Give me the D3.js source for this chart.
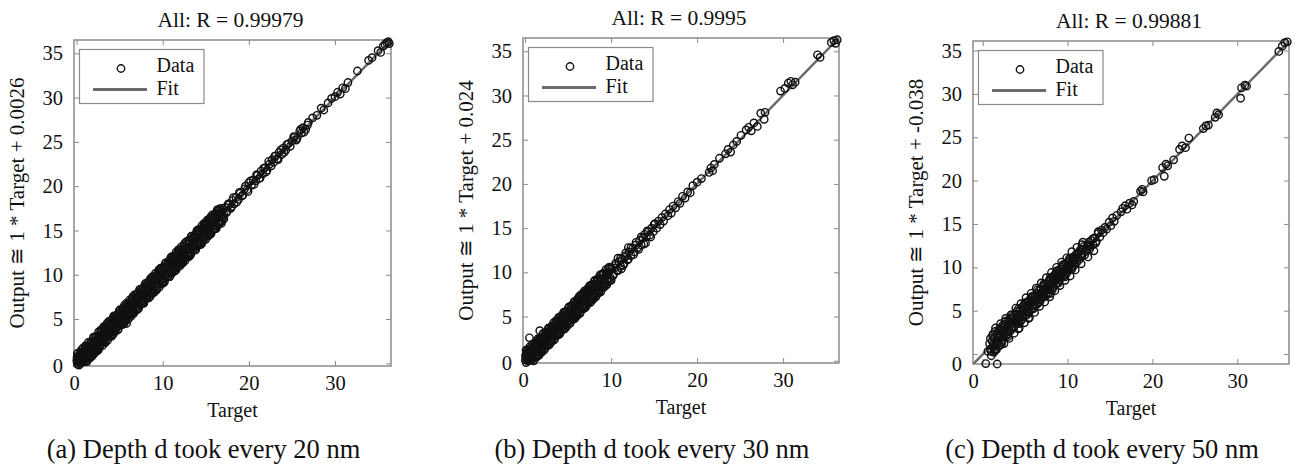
<!DOCTYPE html>
<html>
<head>
<meta charset="utf-8">
<script src="https://cdn.jsdelivr.net/npm/d3@7"></script>
<style>
  body { margin: 0; background: #fff; }
</style>
</head>
<body>
<div id="chart"></div>
<script>
//* data

var rValues = [0.99979, 0.9995, 0.99881]
var intercepts = [0.0026, 0.024, -0.038]
var captions = ["(a) Depth d took every 20 nm", "(b) Depth d took every 30 nm", "(c) Depth d took every 50 nm"]
var axisLimits = [[-0.3, 36.5], [-0.25, 36.5], [-1.15, 36.1]]
var xTickValues = [0, 10, 20, 30]
var yTickValues = [0, 5, 10, 15, 20, 25, 30, 35]
var legendLabels = ["Data", "Fit"]
var serifFont = "Liberation Serif"

// [target, output]
var pointsA = [[0.02,0.3],[0.08,-0.1],[0.12,0.6],[0.18,0.1],[0.22,0.4],[0.28,-0.2],[0.33,0.8],[0.38,0.2],[0.42,0.5],[0.47,0.0],[0.52,0.9],[0.58,0.3],[0.63,0.7],[0.7,0.2],[0.76,1.1],[0.82,0.5],[0.9,1.0],[0.97,0.6],[1.05,1.4],[1.12,0.8],[1.2,1.3],[1.28,0.9],[1.36,1.7],[1.44,1.1],[1.52,1.6],[1.6,1.2],[1.75,0.9],[1.7,2.1],[1.82,1.5],[1.92,2.3],[2.0,1.7],[2.1,2.5],[2.2,1.9],[2.3,2.6],[2.42,2.1],[2.52,2.9],[2.62,2.3],[2.74,3.1],[2.85,2.5],[2.96,3.3],[3.08,2.7],[3.2,3.5],[3.32,2.9],[3.44,3.8],[3.56,3.2],[3.68,4.0],[3.8,3.4],[3.92,4.2],[4.05,3.6],[4.18,4.5],[4.3,3.9],[4.43,4.8],[4.56,4.1],[4.7,5.0],[4.84,4.4],[4.97,5.3],[5.1,4.7],[5.24,5.6],[5.38,4.9],[5.52,5.9],[5.66,5.2],[5.8,4.5],[5.8,6.1],[5.95,5.5],[6.1,6.5],[6.25,5.8],[6.4,6.8],[6.55,6.1],[6.7,7.1],[6.86,6.4],[7.02,7.5],[7.18,6.8],[7.34,7.8],[7.5,7.1],[7.66,8.0],[7.82,7.4],[7.98,8.4],[8.14,7.7],[8.3,8.7],[8.46,8.0],[8.62,9.0],[8.78,8.3],[8.94,9.3],[9.1,8.7],[9.26,9.7],[9.42,9.0],[9.58,10.0],[9.74,9.3],[9.9,10.3],[10.0,9.6],[10.06,10.1],[10.22,10.6],[10.38,9.9],[10.54,10.9],[10.7,10.2],[10.86,11.2],[11.02,10.6],[11.18,11.5],[11.34,10.9],[11.5,11.9],[11.66,11.2],[11.82,12.1],[11.98,11.5],[12.2,11.5],[12.14,12.5],[12.3,11.9],[12.46,12.8],[12.62,12.2],[12.78,13.1],[12.94,12.5],[13.1,13.5],[13.26,12.9],[13.42,13.8],[13.58,13.2],[13.74,14.2],[13.9,13.5],[14.06,14.5],[14.22,13.8],[14.38,14.9],[14.54,14.2],[14.7,15.2],[14.86,14.5],[15.02,15.6],[15.18,14.9],[15.34,15.8],[15.5,15.2],[15.66,16.2],[15.82,15.5],[15.98,16.4],[16.14,15.9],[16.3,16.7],[16.46,16.1],[16.62,17.0],[16.78,16.5],[16.94,17.3],[17.1,16.8],
  [0.05,0.7],[0.15,0.45],[0.25,0.9],[0.35,0.1],[0.45,1.0],[0.55,0.25],[0.65,1.1],[0.75,0.45],[0.85,1.3],[0.95,0.2],[1.1,1.7],[1.25,0.6],[1.4,1.6],[1.55,1.0],[1.7,2.3],[1.85,1.2],[2.0,2.4],[2.15,1.5],[2.3,3.0],[2.45,1.7],[2.6,3.2],[2.75,2.1],[2.9,3.5],[3.05,2.4],[3.2,3.9],[3.35,2.7],[3.5,4.1],[3.65,3.0],[3.8,4.5],[3.95,3.3],[4.1,4.7],[4.25,3.6],[4.4,5.1],[4.55,3.9],[4.7,5.3],[4.85,4.2],[5.0,5.7],[5.15,4.4],[5.3,5.9],[5.45,4.7],[5.6,6.3],[5.75,5.0],[5.9,6.5],[6.05,5.4],[6.2,6.9],[6.35,5.6],[6.5,7.2],[6.65,5.9],[6.8,7.5],[6.95,6.2],[7.1,7.8],[7.25,6.5],[7.4,8.1],[7.55,6.8],[7.7,8.4],[7.85,7.1],[8.0,8.7],[8.15,7.4],[8.3,9.0],[8.45,7.7],[8.6,9.3],[8.75,8.0],[8.9,9.6],[9.05,8.3],[9.2,9.9],[9.35,8.6],[9.5,10.2],[9.65,8.9],[9.8,10.5],[9.95,9.2],[10.1,10.8],[10.25,9.5],[10.4,11.1],[10.55,9.8],[10.7,11.4],[10.85,10.1],[11.0,11.7],[11.15,10.4],[11.3,12.0],[11.45,10.7],[11.6,12.3],[11.75,11.0],[11.9,12.6],[12.05,11.3],[12.2,12.9],[12.35,11.6],[12.5,13.2],[12.65,11.9],[12.8,13.5],[12.95,12.2],[13.1,13.8],[13.25,12.5],[13.4,14.1],[13.55,12.8],[13.7,14.4],[13.85,13.1],[14.0,14.7],[14.15,13.4],[14.3,15.0],[14.45,13.7],[14.6,15.3],[14.75,14.0],[14.9,15.6],[15.05,14.3],[15.2,15.9],[15.35,14.6],[15.5,16.2],[15.65,14.9],[15.8,16.5],[15.95,15.2],[16.1,16.8],[16.3,15.5],[16.5,17.2],[16.7,15.9],[16.9,17.5],[17.1,16.3],
  [0.1,1.1],[0.3,0.45],[0.55,1.5],[0.8,0.95],[1.05,2.0],[1.3,1.15],[1.55,0.6],[1.8,2.0],[2.05,1.1],[2.3,2.45],[2.55,1.55],[2.8,3.75],[3.05,3.2],[3.3,2.3],[3.55,4.55],[3.8,3.95],[4.05,3.05],[4.3,5.3],[4.55,4.7],[4.8,3.8],[5.05,6.05],[5.3,5.45],[5.55,4.55],[5.8,6.8],[6.05,6.2],[6.3,5.3],[6.55,7.55],[6.8,6.95],[7.05,6.05],[7.3,8.3],[7.55,7.7],[7.8,6.8],[8.05,9.05],[8.3,8.45],[8.55,7.55],[8.8,9.8],[9.05,9.2],[9.3,8.3],[9.55,10.55],[9.8,9.95],[10.05,9.05],[10.3,11.3],[10.55,10.7],[10.8,9.8],[11.05,12.05],[11.3,11.45],[11.55,10.55],[11.8,12.8],[12.05,12.2],[12.3,11.3],[12.55,13.55],[12.8,12.95],[13.05,12.05],[13.3,14.3],[13.55,13.7],[13.8,12.8],[14.05,15.05],[14.3,14.45],[14.55,13.55],[14.8,15.8],[15.05,15.2],[15.3,14.4],[15.55,16.5],[15.8,15.95],[16.05,15.2],[16.3,17.2],[16.6,16.75],[16.9,16.1],
  [0.2,0.75],[0.4,0.15],[0.6,0.9],[0.9,0.35],[1.0,1.85],[1.15,0.25],[1.35,1.9],[1.5,1.25],[1.65,1.95],[1.9,1.35],[2.1,2.95],[2.25,1.35],[2.45,3.0],[2.6,2.35],[2.8,3.1],[3.0,2.45],[3.15,4.0],[3.3,2.4],[3.5,4.05],[3.7,3.45],[3.9,4.2],[4.1,3.55],[4.25,5.1],[4.45,3.55],[4.65,5.2],[4.8,4.55],[5.0,5.3],[5.2,4.65],[5.35,6.2],[5.55,4.65],[5.75,6.3],[5.9,5.65],[6.1,6.4],[6.3,5.75],[6.45,7.3],[6.65,5.75],[6.85,7.4],[7.0,6.75],[7.2,7.5],[7.4,6.85],[7.55,8.4],[7.75,6.85],[7.95,8.5],[8.1,7.85],[8.3,8.6],[8.5,7.95],[8.65,9.5],[8.85,7.95],[9.05,9.6],[9.2,8.95],[9.4,9.7],[9.6,9.05],[9.75,10.6],[9.95,9.05],[10.15,10.7],[10.3,10.05],[10.5,10.8],[10.7,10.15],[10.85,11.7],[11.05,10.15],[11.25,11.8],[11.4,11.15],[11.6,11.9],[11.8,11.25],[11.95,12.8],[12.15,11.25],[12.35,12.9],[12.5,12.25],[12.7,13.0],[12.9,12.35],[13.05,13.9],[13.25,12.35],[13.45,14.0],[13.6,13.35],[13.8,14.1],[14.0,13.45],[14.15,15.0],[14.35,13.45],[14.55,15.1],[14.7,14.45],[14.9,15.2],[15.1,14.55],[15.25,16.1],[15.45,14.55],[15.65,16.2],[15.8,15.55],[16.0,16.3],[16.2,15.65],[16.4,17.2],[16.6,15.9],[16.8,17.1],[17.0,16.5],
  [0.15,1.15],[0.45,1.25],[0.75,1.75],[1.05,1.85],[1.35,2.35],[1.65,2.45],[1.95,2.95],[2.25,3.05],[2.55,3.55],[2.85,3.65],[3.15,4.15],[3.45,4.25],[3.75,4.75],[4.05,4.85],[4.35,5.35],[4.65,5.45],[4.95,5.95],[5.25,6.05],[5.55,6.55],[5.85,6.65],[6.15,7.15],[6.45,7.25],[6.75,7.75],[7.05,7.85],[7.35,8.35],[7.65,8.45],[7.95,8.95],[8.25,9.05],[8.55,9.55],[8.85,9.65],[9.15,10.15],[9.45,10.25],[9.75,10.75],[10.05,10.85],[10.35,11.35],[10.65,11.45],[10.95,11.95],[11.25,12.05],[11.55,12.55],[11.85,12.65],[12.15,13.15],[12.45,13.25],[12.75,13.75],[13.05,13.85],[13.35,14.35],[13.65,14.45],[13.95,14.95],[14.25,15.05],[14.55,15.55],[14.85,15.65],[15.15,16.15],[15.45,16.25],[15.75,16.75],[16.05,16.85],[16.35,17.35],[16.65,17.45],
  [1.2,0.2],[1.5,0.7],[1.8,0.8],[2.1,1.3],[2.4,1.4],[2.7,1.9],[3.0,2.0],[3.3,2.5],[3.6,2.6],[3.9,3.1],[4.2,3.2],[4.5,3.7],[4.8,3.8],[5.1,4.3],[5.4,4.4],[5.7,4.9],[6.0,5.0],[6.3,5.5],[6.6,5.6],[6.9,6.1],[7.2,6.2],[7.5,6.7],[7.8,6.8],[8.1,7.3],[8.4,7.4],[8.7,7.9],[9.0,8.0],[9.3,8.5],[9.6,8.6],[9.9,9.1],[10.2,9.2],[10.5,9.7],[10.8,9.8],[11.1,10.3],[11.4,10.4],[11.7,10.9],[12.0,11.0],[12.3,11.5],[12.6,11.6],[12.9,12.1],[13.2,12.2],[13.5,12.7],[13.8,12.8],[14.1,13.3],[14.4,13.4],[14.7,13.9],[15.0,14.0],[15.3,14.5],[15.6,14.6],[15.9,15.1],[16.2,15.2],[16.5,15.7],[16.8,15.8],
  [17.3,17.6],[17.5,17.2],[17.7,17.9],[17.9,17.5],[18.1,18.4],[18.3,18.0],[18.5,18.7],[18.8,18.5],[19.0,19.2],[19.2,18.9],[19.5,19.7],[19.8,19.6],[20.0,20.4],[20.3,20.1],[20.5,20.7],[20.8,20.6],[21.0,21.2],[21.2,20.9],[21.4,21.7],[21.6,21.4],[21.9,22.1],[22.1,21.8],[22.4,22.5],[22.7,23.0],[22.9,22.7],[23.1,23.4],[23.3,23.1],[23.5,23.8],[23.8,23.6],[24.0,24.3],[24.3,24.1],[24.6,24.8],[25.0,25.1],[25.3,25.5],[25.6,25.4],[25.9,26.2],[26.1,26.0],[26.3,26.6],[26.6,26.4],[26.8,26.9],[27.4,27.7],[27.9,28.0],[28.4,28.8],[28.7,28.6],[29.2,29.4],[29.6,29.9],[30.0,30.1],[30.3,30.6],[30.6,30.4],[30.9,31.1],[31.2,31.0],[31.5,31.7],[32.6,33.0],[33.9,34.2],[34.3,34.5],[35.0,35.3],[35.3,35.1],[35.6,35.8],[35.8,36.0],[36.0,36.2],[36.2,36.3],[36.3,36.1],
  [17.4,17.0],[17.6,18.0],[18.0,17.7],[18.2,18.7],[18.6,18.2],[18.9,19.3],[19.3,19.0],[19.6,20.0],[19.9,19.4],[20.2,20.6],[20.6,20.2],[20.9,21.3],[21.3,20.9],[21.7,22.0],[22.0,21.6],[22.3,22.8],[22.6,22.3],[23.0,23.4],[23.4,23.0],[23.7,24.1],[24.1,23.8],[24.4,24.7],[24.8,24.5],[25.2,25.6],[25.5,25.2],[26.0,26.4],[26.4,26.1],[26.9,27.2]]

var pointsB = [[0.02,0.1],[0.08,0.5],[0.12,-0.2],[0.18,0.3],[0.24,0.8],[0.3,0.0],[0.36,0.6],[0.42,0.2],[0.48,0.9],[0.5,2.6],[0.55,0.4],[0.62,1.0],[0.7,0.5],[0.78,1.2],[0.86,0.7],[0.95,1.4],[1.04,0.9],[1.13,1.6],[1.22,1.0],[1.32,1.8],[1.42,1.2],[1.52,2.0],[1.62,1.4],[1.7,3.4],[1.74,2.1],[1.86,1.6],[1.98,2.4],[2.1,1.8],[2.22,2.6],[2.34,2.0],[2.46,2.9],[2.58,2.3],[2.7,3.1],[2.84,2.5],[2.98,3.4],[3.12,2.8],[3.26,3.6],[3.4,3.1],[3.55,3.9],[3.7,3.3],[3.85,4.2],[4.0,3.6],[4.15,4.5],[4.3,3.9],[4.46,4.8],[4.62,4.2],[4.78,5.1],[4.94,4.5],[5.1,5.4],[5.26,4.9],[5.42,5.8],[5.58,5.1],[5.74,6.0],[5.8,5.0],[5.9,5.5],[6.06,6.4],[6.22,5.8],[6.38,6.7],[6.54,6.1],[6.7,7.0],[6.86,6.4],[7.02,7.4],[7.18,6.8],[7.34,7.6],[7.5,7.1],[7.66,8.0],[7.82,7.4],[7.98,8.3],[8.14,7.7],[8.3,8.6],[8.46,8.0],[8.62,8.9],[8.8,8.4],[8.98,9.3],[9.16,8.7],[9.34,9.6],[9.52,9.1],[9.7,10.0],[9.9,9.4],[10.1,10.4],[10.3,9.8],[10.5,10.8],[10.7,10.2],[10.9,11.2],[11.1,10.7],[11.3,11.5],[11.5,11.0],[11.7,11.9],[11.9,11.4],[12.1,12.3],[12.3,11.9],[12.5,12.7],[12.7,12.3],[12.9,13.1],[13.1,12.8],[13.3,13.6],[13.5,13.1],[13.7,13.9],[14.0,13.3],[13.9,14.3],[14.1,14.0],[14.3,14.6],[14.5,14.2],[14.7,15.0],[14.9,14.6],[15.1,15.5],[15.3,15.0],[15.5,15.8],
  [0.05,0.6],[0.15,0.9],[0.25,0.2],[0.35,1.0],[0.45,0.1],[0.6,1.2],[0.75,0.3],[0.9,1.5],[1.05,0.5],[1.2,1.8],[1.35,0.8],[1.5,2.1],[1.65,1.0],[1.8,2.4],[1.95,1.3],[2.1,2.7],[2.25,1.6],[2.4,3.0],[2.55,1.9],[2.7,3.3],[2.85,2.2],[3.0,3.6],[3.15,2.5],[3.3,3.9],[3.45,2.8],[3.6,4.2],[3.75,3.1],[3.9,4.5],[4.05,3.4],[4.2,4.8],[4.35,3.7],[4.5,5.1],[4.65,4.0],[4.8,5.4],[4.95,4.3],[5.1,5.7],[5.25,4.6],[5.4,6.0],[5.55,4.9],[5.7,6.3],[5.85,5.2],[6.0,6.6],[6.15,5.5],[6.3,6.9],[6.45,5.8],[6.6,7.2],[6.75,6.1],[6.9,7.5],[7.05,6.4],[7.2,7.8],[7.35,6.7],[7.5,8.1],[7.65,7.0],[7.8,8.4],[7.95,7.3],[8.1,8.7],[8.25,7.6],[8.4,9.0],[8.55,7.9],[8.7,9.3],[8.9,8.3],[9.1,9.7],[9.3,8.7],[9.5,10.0],[9.7,9.1],[9.9,10.4],[10.2,9.6],[10.5,11.0],[10.8,10.2],[11.1,11.6],[11.4,10.8],[11.7,12.2],[12.0,11.5],[12.3,12.8],[12.6,12.0],[12.9,13.4],[13.2,12.6],[13.5,14.0],[13.8,13.2],[14.2,14.7],[14.6,14.0],[15.0,15.4],
  [0.1,1.2],[0.3,0.5],[0.55,1.6],[0.8,0.1],[1.05,1.2],[1.3,2.2],[1.55,0.7],[1.8,1.9],[2.05,3.0],[2.3,1.4],[2.55,2.6],[2.8,3.7],[3.05,2.1],[3.3,3.4],[3.55,4.5],[3.8,2.9],[4.05,4.1],[4.3,5.2],[4.55,3.6],[4.8,4.9],[5.05,6.0],[5.3,4.4],[5.55,5.6],[5.8,6.7],[6.05,5.1],[6.3,6.4],[6.55,7.5],[6.8,5.9],[7.05,7.1],[7.3,8.2],[7.55,6.6],[7.8,7.9],[8.05,9.0],[8.3,7.4],[8.55,8.6],[8.8,9.7],[9.1,8.3],[9.4,9.5],[9.7,10.5],[10.0,9.1],[10.4,10.5],[10.8,11.6],[11.2,10.4],[11.6,11.7],[12.0,12.8],
  [0.2,0.6],[0.4,1.3],[0.65,0.05],[0.85,1.1],[1.1,1.9],[1.25,0.35],[1.45,1.7],[1.7,2.5],[1.9,0.95],[2.15,2.2],[2.4,3.2],[2.6,1.7],[2.85,3.0],[3.1,3.9],[3.35,2.4],[3.6,3.7],[3.85,4.7],[4.1,3.2],[4.35,4.5],[4.6,5.5],[4.85,3.9],[5.1,5.2],[5.35,6.2],[5.6,4.7],[5.85,6.0],[6.1,7.0],[6.35,5.4],[6.6,6.7],[6.85,7.7],[7.1,6.2],[7.35,7.5],[7.6,8.5],[7.85,6.9],[8.1,8.2],[8.35,9.2],[8.6,7.7],[8.85,9.0],[9.1,9.9],[9.35,8.5],[9.6,9.8],
  [0.3,1.3],[0.6,1.4],[0.9,1.9],[1.2,2.0],[1.5,2.5],[1.8,2.6],[2.1,3.1],[2.4,3.2],[2.7,3.7],[3.0,3.8],[3.3,4.3],[3.6,4.4],[3.9,4.9],[4.2,5.0],[4.5,5.5],[4.8,5.6],[5.1,6.1],[5.4,6.2],[5.7,6.7],[6.0,6.8],[6.3,7.3],[6.6,7.4],[6.9,7.9],[7.2,8.0],[7.5,8.5],[7.8,8.6],[8.1,9.1],[8.4,9.2],[8.7,9.7],[9.0,9.8],[9.4,10.3],[9.8,10.6],
  [1.0,0.0],[1.3,0.5],[1.6,0.6],[1.9,1.1],[2.2,1.2],[2.5,1.7],[2.8,1.8],[3.1,2.3],[3.4,2.4],[3.7,2.9],[4.0,3.0],[4.3,3.5],[4.6,3.6],[4.9,4.1],[5.2,4.2],[5.5,4.7],[5.8,4.8],[6.1,5.3],[6.4,5.4],[6.7,5.9],[7.0,6.0],[7.3,6.5],[7.6,6.6],[7.9,7.1],[8.2,7.2],[8.5,7.7],[8.8,7.8],[9.1,8.3],[9.5,8.6],[9.9,9.1],
  [15.7,15.4],[15.9,16.2],[16.1,15.8],[16.3,16.6],[16.6,16.4],[16.8,17.1],[17.0,16.7],[17.2,17.5],[17.5,17.3],[17.8,18.0],[18.0,17.8],[18.3,18.6],[18.6,18.4],[18.9,19.1],[19.2,19.0],[19.5,19.8],[20.0,20.2],[20.5,20.6],[21.4,21.3],[21.6,21.8],[21.8,21.5],[22.0,22.2],[22.6,22.9],[23.3,23.4],[23.6,23.9],[23.9,23.6],[24.2,24.4],[24.6,24.8],[25.1,25.5],[25.7,26.1],[26.0,26.4],[26.3,26.0],[26.6,26.9],[27.0,26.5],[27.4,28.0],[27.8,27.3],[27.9,28.1],[29.7,30.5],[30.2,30.8],[30.6,31.4],[30.9,31.6],[31.1,31.2],[31.4,31.5],[34.0,34.6],[34.3,34.3],[35.6,36.0],[35.9,36.2],[36.1,35.9],[36.3,36.3]]

var pointsC = [[0.35,-1.1],[1.7,-1.15],[0.6,0.3],[0.8,1.2],[0.9,0.6],[1.0,-0.2],[1.1,1.5],[1.2,0.8],[1.3,0.2],[1.4,1.9],[1.5,1.1],[1.6,0.5],[1.7,2.4],[1.8,1.4],[1.9,2.8],[2.0,1.0],[2.1,2.0],[2.2,3.0],[2.3,1.6],[2.45,2.6],[2.6,3.4],[2.75,2.1],[2.9,3.1],[3.05,3.9],[3.2,2.6],[3.35,3.5],[3.5,4.2],[3.65,3.0],[3.8,4.0],[3.95,4.6],[4.1,3.5],[4.2,2.9],[4.25,4.4],[4.4,5.1],[4.55,3.9],[4.7,4.9],[4.85,5.6],[5.0,4.4],[5.15,5.3],[5.3,6.0],[5.4,4.1],[5.45,4.8],[5.6,5.8],[5.75,6.4],[5.9,5.3],[6.05,6.2],[6.2,6.8],[6.35,5.7],[6.5,6.6],[6.65,7.3],[6.8,6.2],[6.95,7.1],[7.1,7.8],[7.25,6.6],[7.4,7.5],[7.55,8.1],[7.7,7.0],[7.85,7.9],[8.0,7.0],[8.0,8.7],[8.15,7.6],[8.3,8.4],[8.45,9.1],[8.6,8.0],[8.75,8.8],[8.9,9.6],[9.05,8.5],[9.2,9.3],[9.35,10.0],[9.5,9.0],[9.65,9.7],[9.8,10.4],[9.95,9.4],[10.1,10.1],[10.25,10.8],[10.4,9.9],[10.55,10.6],[10.7,11.2],[10.85,10.3],[11.0,11.0],[11.2,11.6],[11.4,10.9],[11.6,11.5],[11.8,12.1],[12.0,11.4],[12.2,12.0],[12.4,12.6],[12.6,12.1],[12.8,13.1],[13.1,11.9],[13.0,12.6],[13.2,13.4],[13.4,13.0],[13.6,13.9],[13.8,13.5],[14.0,14.3],[14.2,14.0],[14.4,14.6],[14.6,14.4],
  [0.9,1.8],[1.0,0.3],[1.15,2.1],[1.3,1.2],[1.45,2.6],[1.55,0.6],[1.75,1.9],[1.9,0.9],[2.05,2.6],[2.2,1.3],[2.35,3.3],[2.5,2.1],[2.65,3.7],[2.8,2.5],[2.95,2.0],[3.1,3.6],[3.25,4.1],[3.4,2.9],[3.55,3.7],[3.7,4.5],[3.85,3.6],[4.0,4.9],[4.15,4.1],[4.3,3.5],[4.45,4.6],[4.6,5.4],[4.75,4.3],[4.9,5.2],[5.05,5.9],[5.2,4.8],[5.35,5.5],[5.5,6.2],[5.65,5.1],[5.8,6.0],[5.95,6.7],[6.1,5.7],[6.25,6.4],[6.4,7.0],[6.55,5.9],[6.7,6.9],[6.85,7.5],[7.0,6.5],[7.15,7.3],[7.3,8.0],[7.45,6.9],[7.6,7.7],[7.75,8.4],[7.9,7.4],[8.05,8.2],[8.2,8.9],[8.35,7.8],[8.5,8.6],[8.65,9.4],[8.8,8.2],[8.95,9.0],[9.1,9.8],[9.25,8.8],[9.4,9.5],[9.55,10.2],[9.7,9.1],[9.85,9.9],[10.0,10.6],[10.15,9.7],[10.3,10.4],[10.45,11.1],[10.6,10.1],[10.8,10.8],[11.0,11.5],[11.3,11.1],[11.5,12.0],[11.7,11.3],[11.9,12.4],[12.1,11.8],[12.3,12.4],[12.5,12.9],[12.7,12.4],[13.0,13.3],[13.3,12.8],[13.6,14.1],
  [1.2,2.3],[1.45,0.4],[1.7,1.3],[1.95,2.9],[2.2,1.1],[2.45,2.4],[2.7,3.8],[2.95,2.3],[3.2,3.3],[3.45,4.5],[3.7,3.2],[3.95,3.9],[4.2,5.2],[4.45,3.8],[4.7,4.6],[4.95,5.9],[5.2,4.5],[5.45,5.5],[5.7,6.6],[5.95,5.2],[6.2,6.2],[6.45,7.4],[6.7,6.0],[6.95,6.9],[7.2,8.1],[7.45,6.7],[7.7,7.6],[7.95,8.8],[8.2,7.4],[8.45,8.5],[8.7,9.6],[8.95,8.2],[9.2,9.1],[9.45,10.3],[9.7,8.9],[9.95,10.0],[10.2,11.0],[10.5,9.8],[10.8,11.1],[11.1,10.6],[11.4,11.8],[11.7,12.6],
  [1.5,3.0],[2.1,3.5],[2.7,4.1],[3.3,4.5],[3.9,5.3],[4.5,5.8],[5.1,6.5],[5.7,7.0],[6.3,7.6],[6.9,8.2],[7.5,8.8],[8.1,9.4],[8.7,10.0],[9.3,10.6],[9.9,11.1],[10.5,11.8],[11.1,12.3],[11.8,12.9],
  [2.5,1.2],[3.1,1.8],[3.7,2.4],[4.3,3.0],[4.9,3.6],[5.5,4.2],[6.1,4.8],[6.7,5.5],[7.3,6.0],[7.9,6.6],[8.5,7.3],[9.1,7.9],[9.7,8.5],[10.3,9.0],[10.9,9.7],[11.6,10.4],[12.4,11.2],
  [14.9,15.2],[15.1,14.8],[15.3,15.7],[15.5,15.3],[15.8,16.0],[16.3,16.4],[16.5,16.8],[16.8,17.1],[17.0,16.7],[17.3,17.4],[17.6,17.2],[17.8,17.6],[18.6,18.8],[18.8,19.0],[18.9,18.7],[19.9,20.0],[20.2,20.1],[21.2,21.5],[21.4,20.5],[21.6,21.9],[21.8,21.7],[22.5,22.4],[23.2,23.6],[23.5,24.0],[23.9,23.8],[24.3,24.9],[26.0,26.0],[26.3,26.3],[26.6,26.4],[27.4,27.3],[27.6,27.8],[27.8,27.6],[30.4,29.5],[30.5,30.7],[30.9,31.0],[31.1,30.9],[34.9,34.9],[35.3,35.5],[35.6,35.9],[35.9,36.0]]

var panelPoints = [pointsA, pointsB, pointsC]

//* layout
var boxes = [{x:74, y:40, w:317, h:326}, {x:523, y:38, w:316, h:325}, {x:973, y:41, w:316, h:323}]
var boxColor = "#8a8a8a"
var fitColor = "#6b6b6b"
var markColor = "#111"

var svg = d3.select("#chart").append("svg").attr("width", 1295).attr("height", 466)
svg.append("rect").attr("width", 1295).attr("height", 466).attr("fill", "#fff")

boxes.forEach(function(b, i){ DrawPanel(b, i) })

function serif(sel, size){
    sel.attr("font-family", serifFont).style("font-family", serifFont)
       .attr("font-size", size).style("font-size", size + "px").attr("fill", "#111")
}

function DrawPanel(b, i){
    var lim = axisLimits[i]
    var x = d3.scaleLinear().domain(lim).range([0, b.w])
    var y = d3.scaleLinear().domain(lim).range([b.h, 0])
    var g = svg.append("g").attr("transform", "translate(" + b.x + "," + b.y + ")")

    g.append("clipPath").attr("id", "clip" + i)
        .append("rect").attr("width", b.w).attr("height", b.h)

    //? axes with inward ticks on all four sides
    var gx = g.append("g").attr("transform", "translate(0," + b.h + ")")
        .call(d3.axisBottom(x).tickValues(xTickValues).tickSize(-5).tickPadding(9).tickFormat(d3.format("d")))
    var gy = g.append("g")
        .call(d3.axisLeft(y).tickValues(yTickValues).tickSize(-5).tickPadding(11).tickFormat(d3.format("d")))
    g.append("g").call(d3.axisTop(x).tickValues(xTickValues).tickSize(-5).tickFormat(""))
    g.append("g").attr("transform", "translate(" + b.w + ",0)")
        .call(d3.axisRight(y).tickValues(yTickValues).tickSize(-5).tickFormat(""))

    g.selectAll(".domain").remove()
    g.selectAll("g").attr("font-family", serifFont)
    g.selectAll(".tick line").attr("stroke", boxColor)
    serif(g.selectAll(".tick text"), 20.5)

    // the 0 labels sit in the corner of the box
    gx.selectAll(".tick").filter(function(d){ return d === 0 }).select("text").attr("x", x(lim[0]) - x(0))
    gy.selectAll(".tick").filter(function(d){ return d === 0 }).select("text").attr("y", y(lim[0]) - y(0))

    g.append("rect").attr("width", b.w).attr("height", b.h)
        .attr("fill", "none").attr("stroke", boxColor).attr("stroke-width", 1.5)

    //? fit line, under the circles
    var line = d3.line().x(function(d){ return x(d) }).y(function(d){ return y(d + intercepts[i]) })
    g.append("path").datum(lim).attr("d", line)
        .attr("clip-path", "url(#clip" + i + ")")
        .attr("fill", "none").attr("stroke", fitColor).attr("stroke-width", 2.5)

    //? data circles
    g.append("g").selectAll("circle").data(panelPoints[i]).enter().append("circle")
        .attr("cx", function(d){ return x(d[0]) })
        .attr("cy", function(d){ return y(d[1]) })
        .attr("r", 3.7)
        .attr("fill", "none").attr("stroke", markColor).attr("stroke-width", 1.4)

    //? texts
    g.append("text").text("All: R = " + rValues[i])
        .attr("x", b.w / 2 - 2).attr("y", -13).attr("text-anchor", "middle").call(serif, 21.5)
    g.append("text").text("Target")
        .attr("x", b.w / 2).attr("y", b.h + 51).attr("text-anchor", "middle").call(serif, 20)
    g.append("text").text("Output \u2245 1 * Target + " + intercepts[i])
        .attr("transform", "translate(-57," + (b.h / 2) + ") rotate(-90)")
        .attr("dy", "0.35em").attr("text-anchor", "middle").call(serif, 21)
    g.append("text").text(captions[i])
        .attr("x", b.w / 2 - 29).attr("y", 458 - b.y).attr("text-anchor", "middle").call(serif, 26.5)

    //? legend
    var lg = g.append("g").attr("transform", "translate(5.5,9.5)")
    lg.append("rect").attr("width", 124.5).attr("height", 54)
        .attr("fill", "#fff").attr("stroke", boxColor).attr("stroke-width", 1.2)
    lg.append("circle").attr("cx", 41.5).attr("cy", 19).attr("r", 3.7)
        .attr("fill", "none").attr("stroke", markColor).attr("stroke-width", 1.4)
    lg.append("line").attr("x1", 13.5).attr("x2", 67.5).attr("y1", 40).attr("y2", 40)
        .attr("stroke", fitColor).attr("stroke-width", 3)
    lg.selectAll(".lgtext").data(legendLabels).enter().append("text")
        .attr("class", "lgtext").text(function(d){ return d })
        .attr("x", 77).attr("y", function(d, k){ return k == 0 ? 22 : 45 })
        .call(serif, 20)
}
</script>
</body>
</html>
